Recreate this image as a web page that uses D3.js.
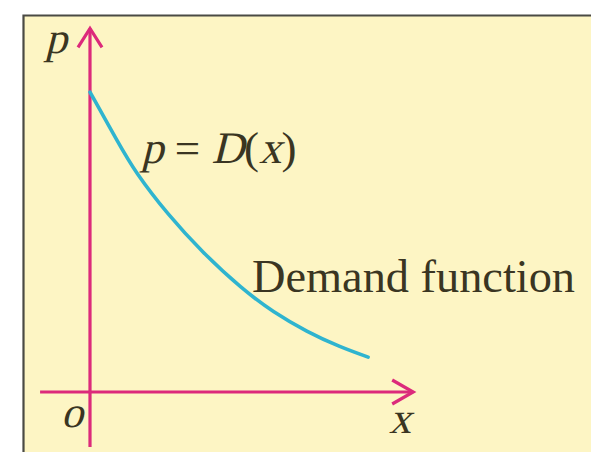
<!DOCTYPE html>
<html>
<head>
<meta charset="utf-8">
<script src="https://cdn.jsdelivr.net/npm/d3@7"></script>
<style>
  html, body { margin: 0; padding: 0; background: #ffffff; }
  svg text { font-family: "Liberation Serif", "Times New Roman", serif; fill: #3a3522; }
</style>
</head>
<body>
<svg id="chart" width="591" height="452"></svg>
<script>
// Demand curve (quantity x, price p)
var quantity = [0, 0.875, 1.41, 2.44, 3.5, 4.75, 5.72, 6.78, 7.81, 8.69];
var price    = [8.33, 6.94, 6.11, 4.92, 3.89, 2.86, 2.22, 1.67, 1.25, 0.97];

// axis extents in data units
var xAxisExtent = [-1.56, 10.1];
var pAxisExtent = [-1.53, 10.1];

var svg = d3.select('#chart');

// panel background with the top/left frame
svg.append('rect')
    .attr('x', 23).attr('y', 15)
    .attr('width', 591 - 23).attr('height', 452 - 15)
    .attr('fill', '#fdf5c4');
svg.append('path')
    .attr('d', 'M23.5,452V15.5H591')
    .attr('fill', 'none')
    .attr('stroke', '#4a4a44')
    .attr('stroke-width', 2.2);

var xScale = d3.scaleLinear().domain([0, 10]).range([90, 410]);
var yScale = d3.scaleLinear().domain([0, 10]).range([392, 32]);

var axisColor = '#dc2a7b';

// horizontal axis
svg.append('line')
    .attr('x1', xScale(xAxisExtent[0])).attr('x2', xScale(xAxisExtent[1]))
    .attr('y1', yScale(0)).attr('y2', yScale(0))
    .attr('stroke', axisColor).attr('stroke-width', 3.2);
// vertical axis
svg.append('line')
    .attr('x1', xScale(0)).attr('x2', xScale(0))
    .attr('y1', yScale(pAxisExtent[0])).attr('y2', yScale(pAxisExtent[1]))
    .attr('stroke', axisColor).attr('stroke-width', 3.2);

// open arrow heads
var xt = [xScale(xAxisExtent[1]), yScale(0)];
svg.append('path')
    .attr('d', 'M' + [xt[0] - 21, xt[1] - 12] + 'L' + xt + 'L' + [xt[0] - 21, xt[1] + 12])
    .attr('fill', 'none').attr('stroke', axisColor)
    .attr('stroke-width', 3.2).attr('stroke-linejoin', 'miter');
var yt = [xScale(0), yScale(pAxisExtent[1])];
svg.append('path')
    .attr('d', 'M' + [yt[0] - 12, yt[1] + 19] + 'L' + yt + 'L' + [yt[0] + 12, yt[1] + 19])
    .attr('fill', 'none').attr('stroke', axisColor)
    .attr('stroke-width', 3.2).attr('stroke-linejoin', 'miter');

// demand curve
var points = quantity.map(function(q, i) { return [q, price[i]]; });
var line = d3.line()
    .x(function(d) { return xScale(d[0]); })
    .y(function(d) { return yScale(d[1]); })
    .curve(d3.curveBasis);
svg.append('path')
    .datum(points)
    .attr('d', line)
    .attr('fill', 'none')
    .attr('stroke', '#2fb4cf')
    .attr('stroke-width', 3.6)
    .attr('stroke-linecap', 'round');

// text piece, slanted when italic; returns its advance width
function piece(x, y, s, size, italic) {
    var g = svg.append('g')
        .attr('transform', 'translate(' + [x, y] + ')' + (italic ? ' skewX(-14)' : ''));
    var t = g.append('text')
        .attr('x', 0).attr('y', 0)
        .style('font-size', size + 'px')
        .style('white-space', 'pre')
        .text(s);
    return t.node().getComputedTextLength();
}

piece(45, 53, 'p', 44, true);
piece(61, 427, 'o', 44, true);
piece(389, 433, 'x', 44, true);

// p = D(x)
var eqParts = [['p', true], [' = ', false], ['D', true], ['(', false], ['x', true], [')', false]];
var cx = 141;
eqParts.forEach(function(d) {
    cx += piece(cx, 163, d[0], 45, d[1]);
});

svg.append('text')
    .attr('x', 252).attr('y', 292)
    .attr('textLength', 323).attr('lengthAdjust', 'spacingAndGlyphs')
    .style('font-size', '47px')
    .text('Demand function');
</script>
</body>
</html>
